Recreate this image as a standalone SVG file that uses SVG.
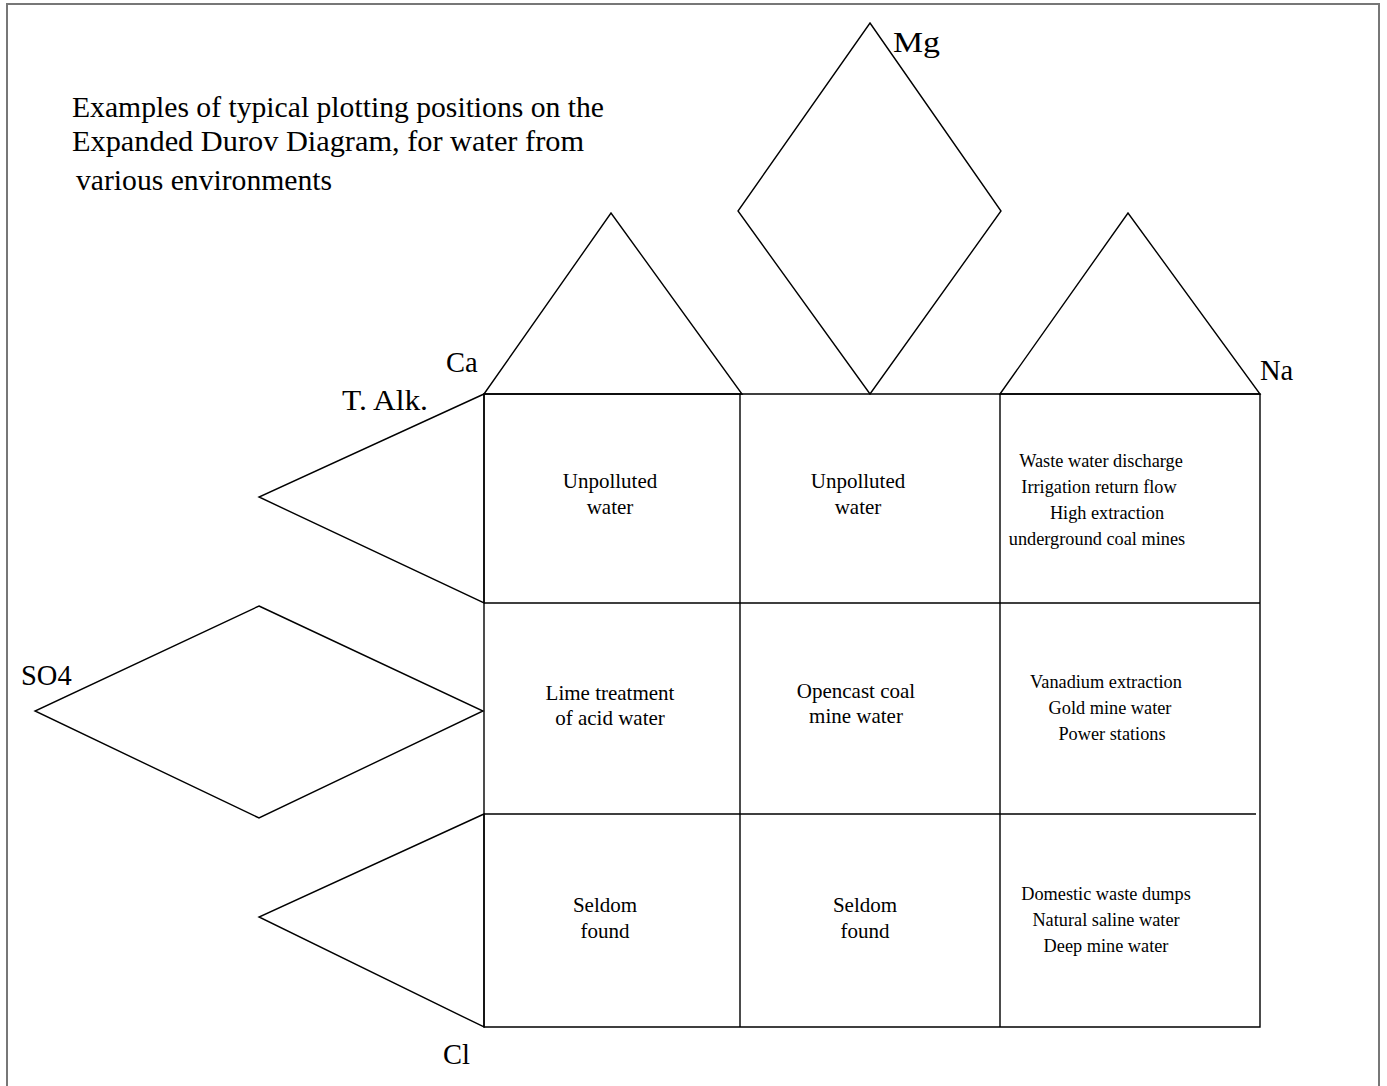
<svg xmlns="http://www.w3.org/2000/svg" width="1387" height="1086" viewBox="0 0 1387 1086">
<style>
.ln{fill:none;stroke:#000;stroke-width:1.4;stroke-linejoin:miter}
.t{font-family:"Liberation Serif","Times New Roman",serif;fill:#000}
.title{font-size:30px}
.lab{font-size:28.5px}
.c{font-size:21px;text-anchor:middle}
.s{font-size:18.3px;text-anchor:middle}
</style>
<rect width="1387" height="1086" fill="#fff"/>
<path d="M7,1086 V4 H1379 V1086" fill="none" stroke="#777" stroke-width="2"/>
<g id="title">
<text class="t title" x="72" y="117" textLength="532" lengthAdjust="spacingAndGlyphs">Examples of typical plotting positions on the</text>
<text class="t title" x="72" y="151" textLength="512" lengthAdjust="spacingAndGlyphs">Expanded Durov Diagram, for water from</text>
<text class="t title" x="76" y="190" textLength="256" lengthAdjust="spacingAndGlyphs">various environments</text>
</g>
<g id="connectors">
<polygon id="tri-ca" class="ln" points="484,394 611,213 742,394"/>
<polygon id="diamond-mg" class="ln" points="870,23 1001,211 870,394 738,211"/>
<polygon id="tri-na" class="ln" points="1000,394 1128,213 1260,394"/>
<polygon id="tri-alk" class="ln" points="484,394 259,497 484,603"/>
<polygon id="diamond-so4" class="ln" points="259,606 483,711 259,818 35,711"/>
<polygon id="tri-cl" class="ln" points="484,814 259,917 484,1027"/>
<path class="ln" d="M484,394 H1260 V1027 H484 Z M740,394 V1027 M1000,394 V1027 M484,603 H1260 M484,814 H1256"/>
</g>
<g id="labels">
<text class="t lab" x="893" y="52" textLength="47" lengthAdjust="spacingAndGlyphs">Mg</text>
<text class="t lab" x="446" y="372">Ca</text>
<text class="t lab" x="1260" y="380">Na</text>
<text class="t lab" x="342" y="410" textLength="86" lengthAdjust="spacingAndGlyphs">T. Alk.</text>
<text class="t lab" x="21" y="685">SO4</text>
<text class="t lab" x="443" y="1064">Cl</text>
</g>
<g id="cell-1-1"><text class="t c" x="610" y="488">Unpolluted</text><text class="t c" x="610" y="514">water</text></g>
<g id="cell-1-2"><text class="t c" x="858" y="488">Unpolluted</text><text class="t c" x="858" y="514">water</text></g>
<g id="cell-1-3">
<text class="t s" x="1101" y="467">Waste water discharge</text>
<text class="t s" x="1099" y="493">Irrigation return flow</text>
<text class="t s" x="1107" y="519">High extraction</text>
<text class="t s" x="1097" y="545">underground coal mines</text>
</g>
<g id="cell-2-1"><text class="t c" x="610" y="700">Lime treatment</text><text class="t c" x="610" y="725">of acid water</text></g>
<g id="cell-2-2"><text class="t c" x="856" y="698">Opencast coal</text><text class="t c" x="856" y="723">mine water</text></g>
<g id="cell-2-3">
<text class="t s" x="1106" y="688">Vanadium extraction</text>
<text class="t s" x="1110" y="714">Gold mine water</text>
<text class="t s" x="1112" y="740">Power stations</text>
</g>
<g id="cell-3-1"><text class="t c" x="605" y="912">Seldom</text><text class="t c" x="605" y="938">found</text></g>
<g id="cell-3-2"><text class="t c" x="865" y="912">Seldom</text><text class="t c" x="865" y="938">found</text></g>
<g id="cell-3-3">
<text class="t s" x="1106" y="900">Domestic waste dumps</text>
<text class="t s" x="1106" y="926">Natural saline water</text>
<text class="t s" x="1106" y="952">Deep mine water</text>
</g>
</svg>
